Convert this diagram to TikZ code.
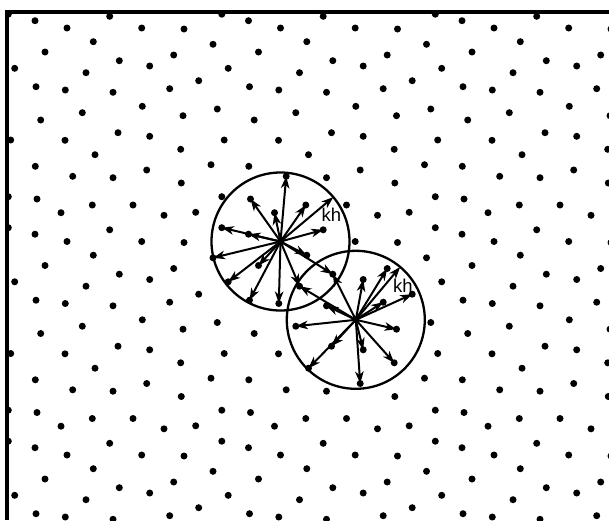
\documentclass[tikz,border=0pt]{standalone}
\usepackage{fontspec}
\setsansfont{Liberation Sans}
\usetikzlibrary{arrows.meta}

\def\dotlist{35/20.7,67/28,109.7/16.3,141.7/28,184/29,93.3/41.7,213/44.3,
  45/52,173.7/55,119.3/60.7,149.7/66,14.7/68.3,86/72.7,198.7/80.7,
  36/86.7,65.3/90,113/92.3,169.7/88.7,142.3/106.3,3.8/109,183/115.7,
  82.3/112.7,40.7/120,10.7/140,65/140.3,118/132.7,149.7/136.3,180.7/149.3,
  95/154.7,35.3/166.3,211/164.7,72.7/176.3,113/177.7,146.7/170,181.3/183,
  8.3/196.7,37/199,61/212.7,92.3/205,133/205,164/215.3,195.7/212.3,8.3/14.2}

\begin{document}
\begin{tikzpicture}[x=1pt,y=-1pt,
    vec/.style={line width=2pt,-{Stealth[length=12pt,width=8.5pt,inset=3.5pt]}},
    rlabel/.style={font=\sffamily\fontsize{18.5}{20}\selectfont,inner sep=0pt}]
    \useasboundingbox (0,0) rectangle (609,520);
    \begin{scope}
        \clip (7,12) rectangle (609,520);
        \foreach \i in {0,1,2}
            \foreach \j in {0,1,2}
                \foreach \x/\y in \dotlist
                    \fill ({\x+213.5*\i},{\y+213.5*\j}) circle (3.5pt);
    \end{scope}
    \draw[line width=3.2pt] (7,520) -- (7,12) -- (609,12);

    \coordinate (c1) at (280.5,241.5);
    \coordinate (c2) at (355.8,319.8);
    \coordinate (r1) at (333.4,197.1);
    \coordinate (r2) at (400.2,266.9);

    \draw[line width=2.3pt] (c1) circle (69pt);
    \draw[line width=2.3pt] (c2) circle (69pt);

    \foreach \x/\y in {248.5/234.2,323.2/229.8,306.8/255.2,258.5/265.5,
        332.8/274.2,228.2/281.8,299.5/286.2,249.5/300.2,278.8/303.5,
        221.8/227.7,286.2/176.3,250.5/199,274.5/212.7,305.8/205,213/257.8}
        \draw[vec] (c1) -- (\x,\y);
    \foreach \x/\y in {387.2/268.5,332.8/274.2,363.2/279.5,299.5/286.2,
        412.2/294.2,326.5/305.8,383.2/302.2,396.5/329.2,295.8/326.2,
        331.5/346.2,363.2/349.8,394.2/362.8,308.5/368.2,360.2/383.5}
        \draw[vec] (c2) -- (\x,\y);

    \draw[vec] (c1) -- (r1);
    \draw[vec] (c2) -- (r2);
    \node[rlabel] (k1) at (331.5,215) {kh};
    \node[rlabel] (k2) at (403,285.5) {kh};
\end{tikzpicture}
\end{document}
